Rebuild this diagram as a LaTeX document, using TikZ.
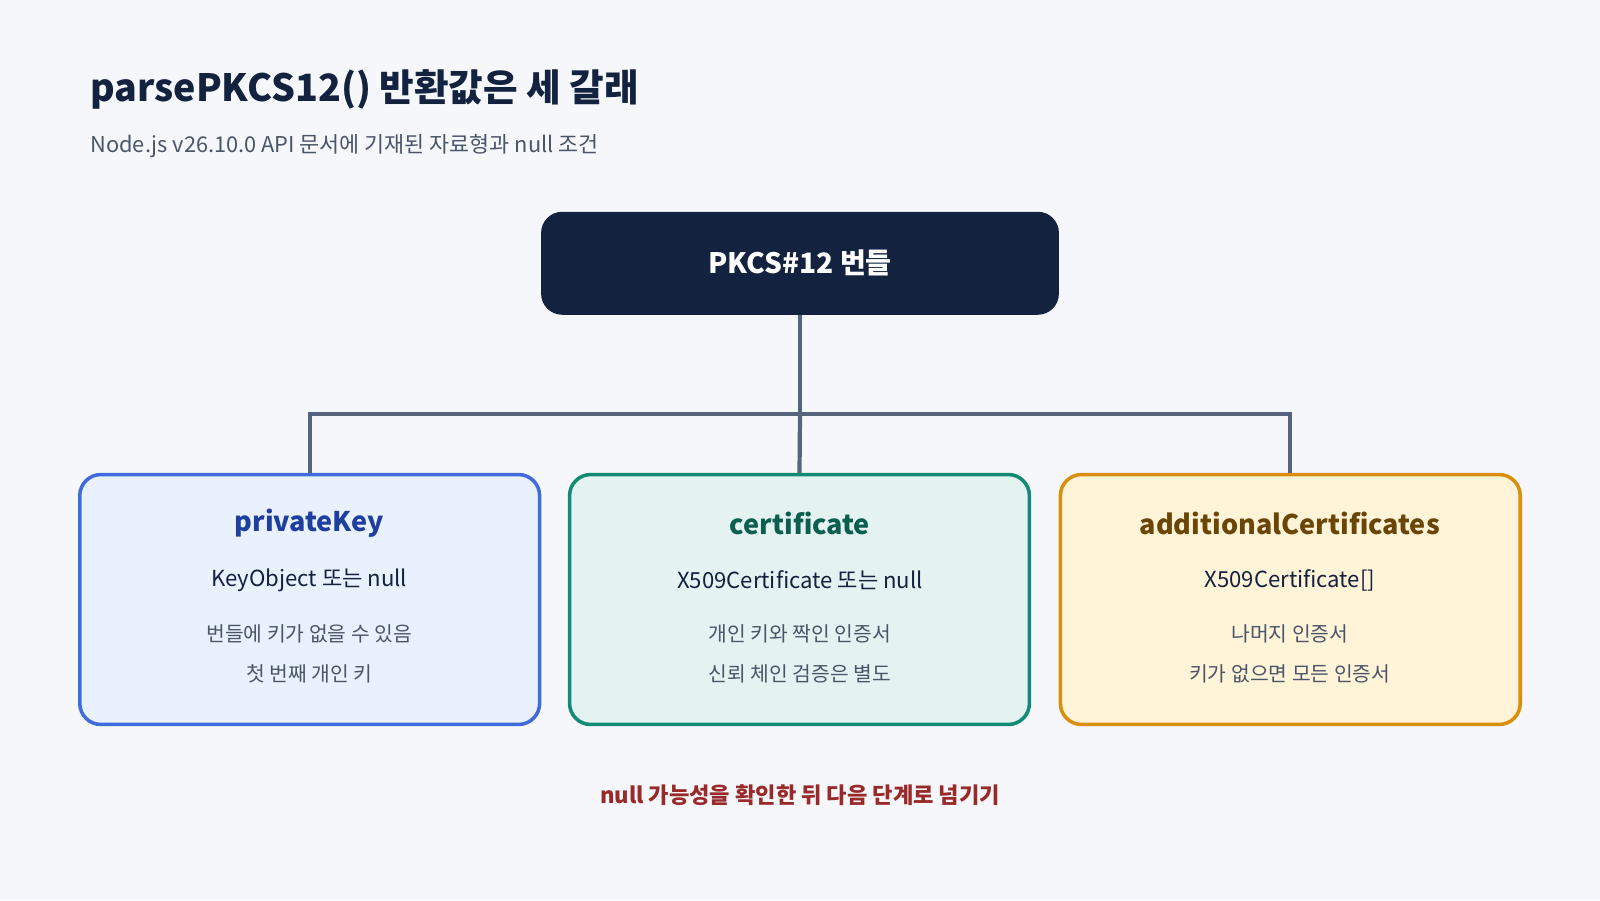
\documentclass[tikz,border=0pt]{standalone}
\usepackage{fontspec}
\setmainfont{Noto Sans CJK KR}
\usetikzlibrary{positioning}
\definecolor{bg}{HTML}{F5F7FB}
\definecolor{navy}{HTML}{12223F}
\definecolor{linkc}{HTML}{56647C}
\definecolor{subc}{HTML}{4A5568}
\definecolor{blueb}{HTML}{3F6BDB}\definecolor{bluef}{HTML}{EAF1FE}\definecolor{bluet}{HTML}{1E3F9E}
\definecolor{tealb}{HTML}{138A74}\definecolor{tealf}{HTML}{E4F3F1}\definecolor{tealt}{HTML}{0C5E4E}
\definecolor{orgb}{HTML}{D98E0C}\definecolor{orgf}{HTML}{FFF3D8}\definecolor{orgt}{HTML}{6B4506}
\definecolor{note}{HTML}{9A2A2A}
\begin{document}
\begin{tikzpicture}[x=0.0102041cm, y=-0.0102041cm]
    \tikzset{box/.style={draw, line width=1pt, rounded corners=6pt, minimum width=4.6cm, minimum height=2.5cm},
             link/.style={draw=linkc, line width=1.2pt},
             head/.style={font=\fontsize{7.7}{10}\selectfont\bfseries},
             kind/.style={font=\fontsize{6.3}{8}\selectfont, text=navy},
             detail/.style={font=\fontsize{5.8}{7}\selectfont, text=subc}}
    \fill[bg] (0,0) rectangle (1568,882);

    % Title
    \node[anchor=west, inner sep=0pt, text=navy, font=\fontsize{10.7}{12}\selectfont\bfseries] (title) at (88,88) {parsePKCS12() 반환값은 세 갈래};
    \node[anchor=west, inner sep=0pt, text=subc, font=\fontsize{6.2}{7}\selectfont] (sub) at (88,143) {Node.js v26.10.0 API 문서에 기재된 자료형과 null 조건};

    % Root
    \node[fill=navy, rounded corners=6pt, minimum width=5.18cm, minimum height=1.03cm, text=white, font=\fontsize{8}{10}\selectfont\bfseries] (top) at (784,258) {PKCS\#12 번들};

    % Boxes
    \node[box, draw=blueb, fill=bluef] (key) at (303.5,587.5) {};
    \node[box, draw=tealb, fill=tealf] (cert) at (783.5,587.5) {};
    \node[box, draw=orgb, fill=orgf] (extra) at (1264.5,587.5) {};

    \node[head, text=bluet] at (303,513) {privateKey};
    \node[kind] at (303,569) {KeyObject 또는 null};
    \node[detail] at (303,621) {번들에 키가 없을 수 있음};
    \node[detail] at (303,660) {첫 번째 개인 키};

    \node[head, text=tealt] at (784,513) {certificate};
    \node[kind] at (784,569) {X509Certificate 또는 null};
    \node[detail] at (784,621) {개인 키와 짝인 인증서};
    \node[detail] at (784,660) {신뢰 체인 검증은 별도};

    \node[head, text=orgt] at (1264,513) {additionalCertificates};
    \node[kind] at (1264,569) {X509Certificate[]};
    \node[detail] at (1264,621) {나머지 인증서};
    \node[detail] at (1264,660) {키가 없으면 모든 인증서};

    % Connectors
    \coordinate (j) at (784,406);
    \draw[link] (top.south) -- (j);
    \draw[link] (j) -- (cert.north);
    \draw[link] (key.north) |- (j) -| (extra.north);

    \node[text=note, font=\fontsize{6.3}{8}\selectfont\bfseries] (foot) at (784,779) {null 가능성을 확인한 뒤 다음 단계로 넘기기};
\end{tikzpicture}
\end{document}
